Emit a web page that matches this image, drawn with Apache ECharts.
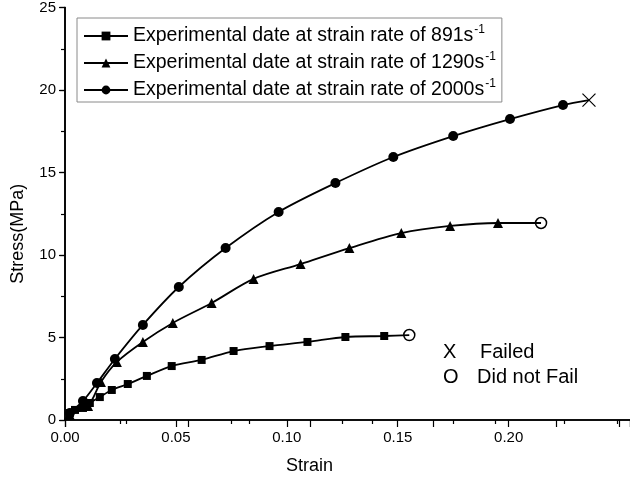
<!DOCTYPE html>
<html>
<head>
<meta charset="utf-8">
<script src="https://cdn.jsdelivr.net/npm/echarts@6/dist/echarts.min.js"></script>
<style>
  html, body { margin: 0; padding: 0; background: #fff; }
  #chart { width: 630px; height: 483px; }
</style>
</head>
<body>
<div id="chart"></div>
<script>
// Stress–strain data at three strain rates (strain, stress in MPa)
const strain891 = [0, 0.0022, 0.0045, 0.0081, 0.0112, 0.0157, 0.0211, 0.0283, 0.0369, 0.0481, 0.0616, 0.0760, 0.0922, 0.1093, 0.1264, 0.1439];
const stress891 = [0, 0.42, 0.61, 0.73, 1.03, 1.39, 1.82, 2.18, 2.67, 3.27, 3.64, 4.18, 4.48, 4.73, 5.03, 5.09];
const end891 = [0.1552, 5.15];            // did not fail

const strain1290 = [0, 0.0022, 0.0104, 0.0162, 0.0234, 0.0351, 0.0486, 0.0661, 0.0850, 0.1062, 0.1282, 0.1516, 0.1736, 0.1952];
const stress1290 = [0, 0.30, 0.85, 2.30, 3.52, 4.73, 5.88, 7.09, 8.55, 9.45, 10.42, 11.33, 11.76, 11.94];
const end1290 = [0.2146, 11.94];          // did not fail

const strain2000 = [0, 0.0022, 0.0081, 0.0144, 0.0225, 0.0351, 0.0513, 0.0724, 0.0963, 0.1219, 0.1480, 0.1750, 0.2006, 0.2245];
const stress2000 = [0, 0.42, 1.15, 2.24, 3.70, 5.76, 8.06, 10.42, 12.61, 14.36, 15.94, 17.21, 18.24, 19.09];
const end2000 = [0.2362, 19.39];          // failed

const rateLabels = ['891', '1290', '2000'];
const xTicks = ['0.00', '0.05', '0.10', '0.15', '0.20'];

const FONT = 'Liberation Sans, Arial, sans-serif';
const crossPath = 'path://M0,0L10,10M10,0L0,10';

function pairs(xs, ys) {
  return xs.map((x, i) => i === 0 ? { value: [x, ys[i]], symbol: 'none' } : [x, ys[i]]);
}
function failedPoint(p) {
  return { value: p, symbol: crossPath, symbolSize: 13,
           itemStyle: { color: 'none', borderColor: '#000', borderWidth: 1.2 } };
}
function intactPoint(p) {
  return { value: p, symbol: 'circle', symbolSize: 11,
           itemStyle: { color: 'none', borderColor: '#000', borderWidth: 1.5 } };
}
function legendName(rate) {
  return 'Experimental date at strain rate of ' + rate + 's';
}

const seriesDefs = [
  { rate: rateLabels[0], data: pairs(strain891, stress891).concat([intactPoint(end891)]), symbol: 'rect', size: 8 },
  { rate: rateLabels[1], data: pairs(strain1290, stress1290).concat([intactPoint(end1290)]), symbol: 'triangle', size: 10 },
  { rate: rateLabels[2], data: pairs(strain2000, stress2000).concat([failedPoint(end2000)]), symbol: 'circle', size: 10 }
];

const chart = echarts.init(document.getElementById('chart'), null, { renderer: 'canvas' });

const axisLine = { show: true, lineStyle: { color: '#000', width: 1.6 } };
const noteStyle = { fontSize: 20, fontFamily: FONT, fill: '#000', verticalAlign: 'middle' };

chart.setOption({
  animation: false,
  backgroundColor: '#fff',
  grid: { left: 65, right: -1, top: 7, bottom: 63, containLabel: false },
  xAxis: [
    {
      type: 'value', position: 'bottom', min: 0, max: 0.2547, interval: 0.05,
      axisLine: axisLine,
      axisTick: { show: true, inside: false, length: 7, lineStyle: { color: '#000', width: 1.2 } },
      minorTick: { show: true, splitNumber: 2, length: 4, lineStyle: { color: '#000', width: 1.2 } },
      splitLine: { show: false },
      axisLabel: {
        color: '#000', fontSize: 15, fontFamily: FONT, margin: 10, showMaxLabel: false,
        formatter: v => { const i = Math.round(v / 0.05); return i < xTicks.length ? xTicks[i] : ''; }
      },
      name: 'Strain', nameLocation: 'middle', nameGap: 37,
      nameTextStyle: { color: '#000', fontSize: 18, fontFamily: FONT, padding: [0, 76, 0, 0] }
    },
    {
      type: 'value', position: 'top', min: 0, max: 4.6, interval: 1,
      axisLine: axisLine,
      axisTick: { show: true, inside: true, length: 7, lineStyle: { color: '#000', width: 1.2 } },
      minorTick: { show: true, splitNumber: 2, length: 4, lineStyle: { color: '#000', width: 1.2 } },
      splitLine: { show: false },
      axisLabel: { show: false }
    }
  ],
  yAxis: [
    {
      type: 'value', position: 'left', min: 0, max: 25, interval: 5,
      axisLine: axisLine,
      axisTick: { show: true, inside: false, length: 6, lineStyle: { color: '#000', width: 1.2 } },
      minorTick: { show: true, splitNumber: 2, length: 4, lineStyle: { color: '#000', width: 1.2 } },
      splitLine: { show: false },
      axisLabel: { color: '#000', fontSize: 15, fontFamily: FONT, margin: 9 },
      name: 'Stress(MPa)', nameLocation: 'middle', nameGap: 38,
      nameTextStyle: { color: '#000', fontSize: 18, fontFamily: FONT, padding: [0, 40, 0, 0] }
    },
    {
      type: 'value', position: 'right', min: 0, max: 25, interval: 5,
      axisLine: axisLine,
      axisTick: { show: true, inside: true, length: 5, lineStyle: { color: '#000', width: 1.2 } },
      minorTick: { show: true, splitNumber: 2, length: 2, lineStyle: { color: '#000', width: 1.2 } },
      splitLine: { show: false },
      axisLabel: { show: false }
    }
  ],
  legend: {
    orient: 'vertical', left: 77, top: 18,
    padding: [6, 6, 2, 6], itemGap: 5, itemWidth: 44, itemHeight: 11,
    borderColor: '#8a8a8a', borderWidth: 1,
    data: seriesDefs.map(d => legendName(d.rate)),
    formatter: name => '{t|' + name + '}{s|-1}',
    textStyle: {
      color: '#000', fontFamily: FONT, fontSize: 19.5,
      rich: {
        t: { fontSize: 19.5, lineHeight: 22, fontFamily: FONT, color: '#000' },
        s: { fontSize: 12, fontFamily: FONT, color: '#000', padding: [0, 0, 12, 1] }
      }
    }
  },
  graphic: [
    { type: 'text', x: 443, y: 352, style: Object.assign({ text: 'X' }, noteStyle) },
    { type: 'text', x: 480, y: 352, style: Object.assign({ text: 'Failed' }, noteStyle) },
    { type: 'text', x: 443, y: 377, style: Object.assign({ text: 'O' }, noteStyle) },
    { type: 'text', x: 477, y: 377, style: Object.assign({ text: 'Did not Fail' }, noteStyle) }
  ],
  series: seriesDefs.map(d => ({
    name: legendName(d.rate),
    type: 'line',
    xAxisIndex: 0, yAxisIndex: 0,
    data: d.data,
    symbol: d.symbol,
    symbolSize: d.size,
    showAllSymbol: true,
    smooth: 0.3,
    lineStyle: { color: '#000', width: 1.8 },
    itemStyle: { color: '#000' },
    emphasis: { disabled: true }
  }))
});
</script>
</body>
</html>
